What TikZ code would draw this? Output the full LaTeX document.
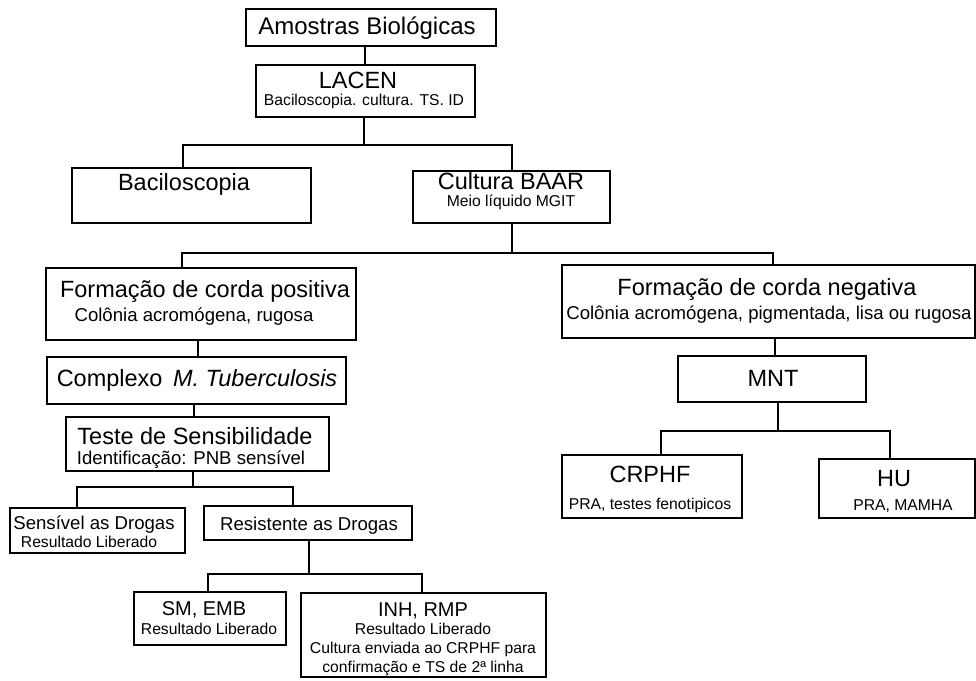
\documentclass[tikz,border=0pt]{standalone}
\usepackage{fontspec}
\setmainfont{Liberation Sans}
\usetikzlibrary{fit}
\newcommand\fsX{\fontsize{24}{28}\selectfont}
\newcommand\fsL{\fontsize{23.5}{27}\selectfont}
\newcommand\fsE{\fontsize{20}{24}\selectfont}
\newcommand\fsM{\fontsize{18.6}{22}\selectfont}
\newcommand\fsS{\fontsize{15.7}{19}\selectfont}
\tikzset{
  box/.style={draw=black, line width=1.2pt, inner sep=0pt, fill=none},
  txt/.style={anchor=base, inner sep=0pt, text=black},
  conn/.style={draw=black, line width=1.2pt},
}
\begin{document}
\begin{tikzpicture}[x=1pt,y=-1pt]
\useasboundingbox[fill=white] (0,0) rectangle (976,680);
% boxes
\node[box, fit={(246,9) (496,46)}] (A) {};
\node[box, fit={(256,65) (475,117)}] (L) {};
\node[box, fit={(72,168) (311,223)}] (B) {};
\node[box, fit={(413,171) (610,223)}] (C) {};
\node[box, fit={(46,268) (356,340)}] (FP) {};
\node[box, fit={(562,265) (975,338)}] (FN) {};
\node[box, fit={(47,357) (346,404)}] (CX) {};
\node[box, fit={(66,417) (329,471)}] (T) {};
\node[box, fit={(10,508) (185,553)}] (S) {};
\node[box, fit={(204,506) (412,540)}] (R) {};
\node[box, fit={(134,592) (286,645)}] (SM) {};
\node[box, fit={(301,593) (546,677)}] (INH) {};
\node[box, fit={(678,356) (866,402)}] (MNT) {};
\node[box, fit={(562,455) (742,518)}] (CR) {};
\node[box, fit={(819,459) (975,518)}] (HU) {};
% texts
\node[txt, font=\fsX] (tA) at (367,34) {Amostras Biológicas};
\node[txt, font=\fsL] (tL1) at (358,88) {LACEN};
\node[txt, font=\fsS] (tL2) at (364,105) {Baciloscopia. cultura. TS. ID};
\node[txt, font=\fsL] (tB) at (184,190) {Baciloscopia};
\node[txt, font=\fsL] (tC1) at (511,189) {Cultura BAAR};
\node[txt, font=\fsS] (tC2) at (511,206) {Meio líquido MGIT};
\node[txt, font=\fsL] (tFP1) at (205,297) {Formação de corda positiva};
\node[txt, font=\fsM] (tFP2) at (194,321) {Colônia acromógena, rugosa};
\node[txt, font=\fsL] (tFN1) at (767,295) {Formação de corda negativa};
\node[txt, font=\fsM] (tFN2) at (769,319) {Colônia acromógena, pigmentada, lisa ou rugosa};
\node[txt, font=\fsL] (tCX) at (197,386) {Complexo\hspace{0.45em}\textit{M. Tuberculosis}};
\node[txt, font=\fsL] (tT1) at (195,444) {Teste de Sensibilidade};
\node[txt, font=\fsM] (tT2) at (191,464) {Identificação: PNB sensível};
\node[txt, font=\fsM] (tS1) at (94,529) {Sensível as Drogas};
\node[txt, font=\fsS] (tS2) at (89,547) {Resultado Liberado};
\node[txt, font=\fsM] (tR) at (309,530) {Resistente as Drogas};
\node[txt, font=\fsE] (tSM1) at (204,615) {SM, EMB};
\node[txt, font=\fsS] (tSM2) at (209,634) {Resultado Liberado};
\node[txt, font=\fsE] (tI1) at (423,616) {INH, RMP};
\node[txt, font=\fsS] (tI2) at (423,634) {Resultado Liberado};
\node[txt, font=\fsS] (tI3) at (423,653) {Cultura enviada ao CRPHF para};
\node[txt, font=\fsS] (tI4) at (423,672) {confirmação e TS de 2ª linha};
\node[txt, font=\fsL] (tM) at (773,386) {MNT};
\node[txt, font=\fsL] (tCR1) at (650,482) {CRPHF};
\node[txt, font=\fsS] (tCR2) at (650,509) {PRA, testes fenotipicos};
\node[txt, font=\fsL] (tHU1) at (894,486) {HU};
\node[txt, font=\fsS] (tHU2) at (903,510) {PRA, MAMHA};
% junction coordinates
\coordinate (xAL) at (365,0);
\coordinate (j1) at (364,145);
\coordinate (xB) at (183,0);
\coordinate (xC) at (512,0);
\coordinate (j2) at (512,253);
\coordinate (xFP) at (182,0);
\coordinate (xFN) at (773,0);
\coordinate (xCX) at (198,0);
\coordinate (xT) at (194,0);
\coordinate (j3) at (193,487);
\coordinate (xS) at (77,0);
\coordinate (xR) at (293,0);
\coordinate (j4) at (309,574);
\coordinate (xSM) at (208,0);
\coordinate (xI) at (422,0);
\coordinate (xM) at (775,0);
\coordinate (j5) at (778,431);
\coordinate (xCR) at (661,0);
\coordinate (xHU) at (890,0);
% connectors
\draw[conn] (A.south -| xAL) -- (L.north -| xAL);
\draw[conn] (L.south -| j1) -- (j1);
\draw[conn] (B.north -| xB) |- (j1) -| (C.north -| xC);
\draw[conn] (C.south -| j2) -- (j2);
\draw[conn] (FP.north -| xFP) |- (j2) -| (FN.north -| xFN);
\draw[conn] (FP.south -| xCX) -- (CX.north -| xCX);
\draw[conn] (CX.south -| xT) -- (T.north -| xT);
\draw[conn] (T.south -| j3) -- (j3);
\draw[conn] (S.north -| xS) |- (j3) -| (R.north -| xR);
\draw[conn] (R.south -| j4) -- (j4);
\draw[conn] (SM.north -| xSM) |- (j4) -| (INH.north -| xI);
\draw[conn] (FN.south -| xM) -- (MNT.north -| xM);
\draw[conn] (MNT.south -| j5) -- (j5);
\draw[conn] (CR.north -| xCR) |- (j5) -| (HU.north -| xHU);
\end{tikzpicture}
\end{document}
